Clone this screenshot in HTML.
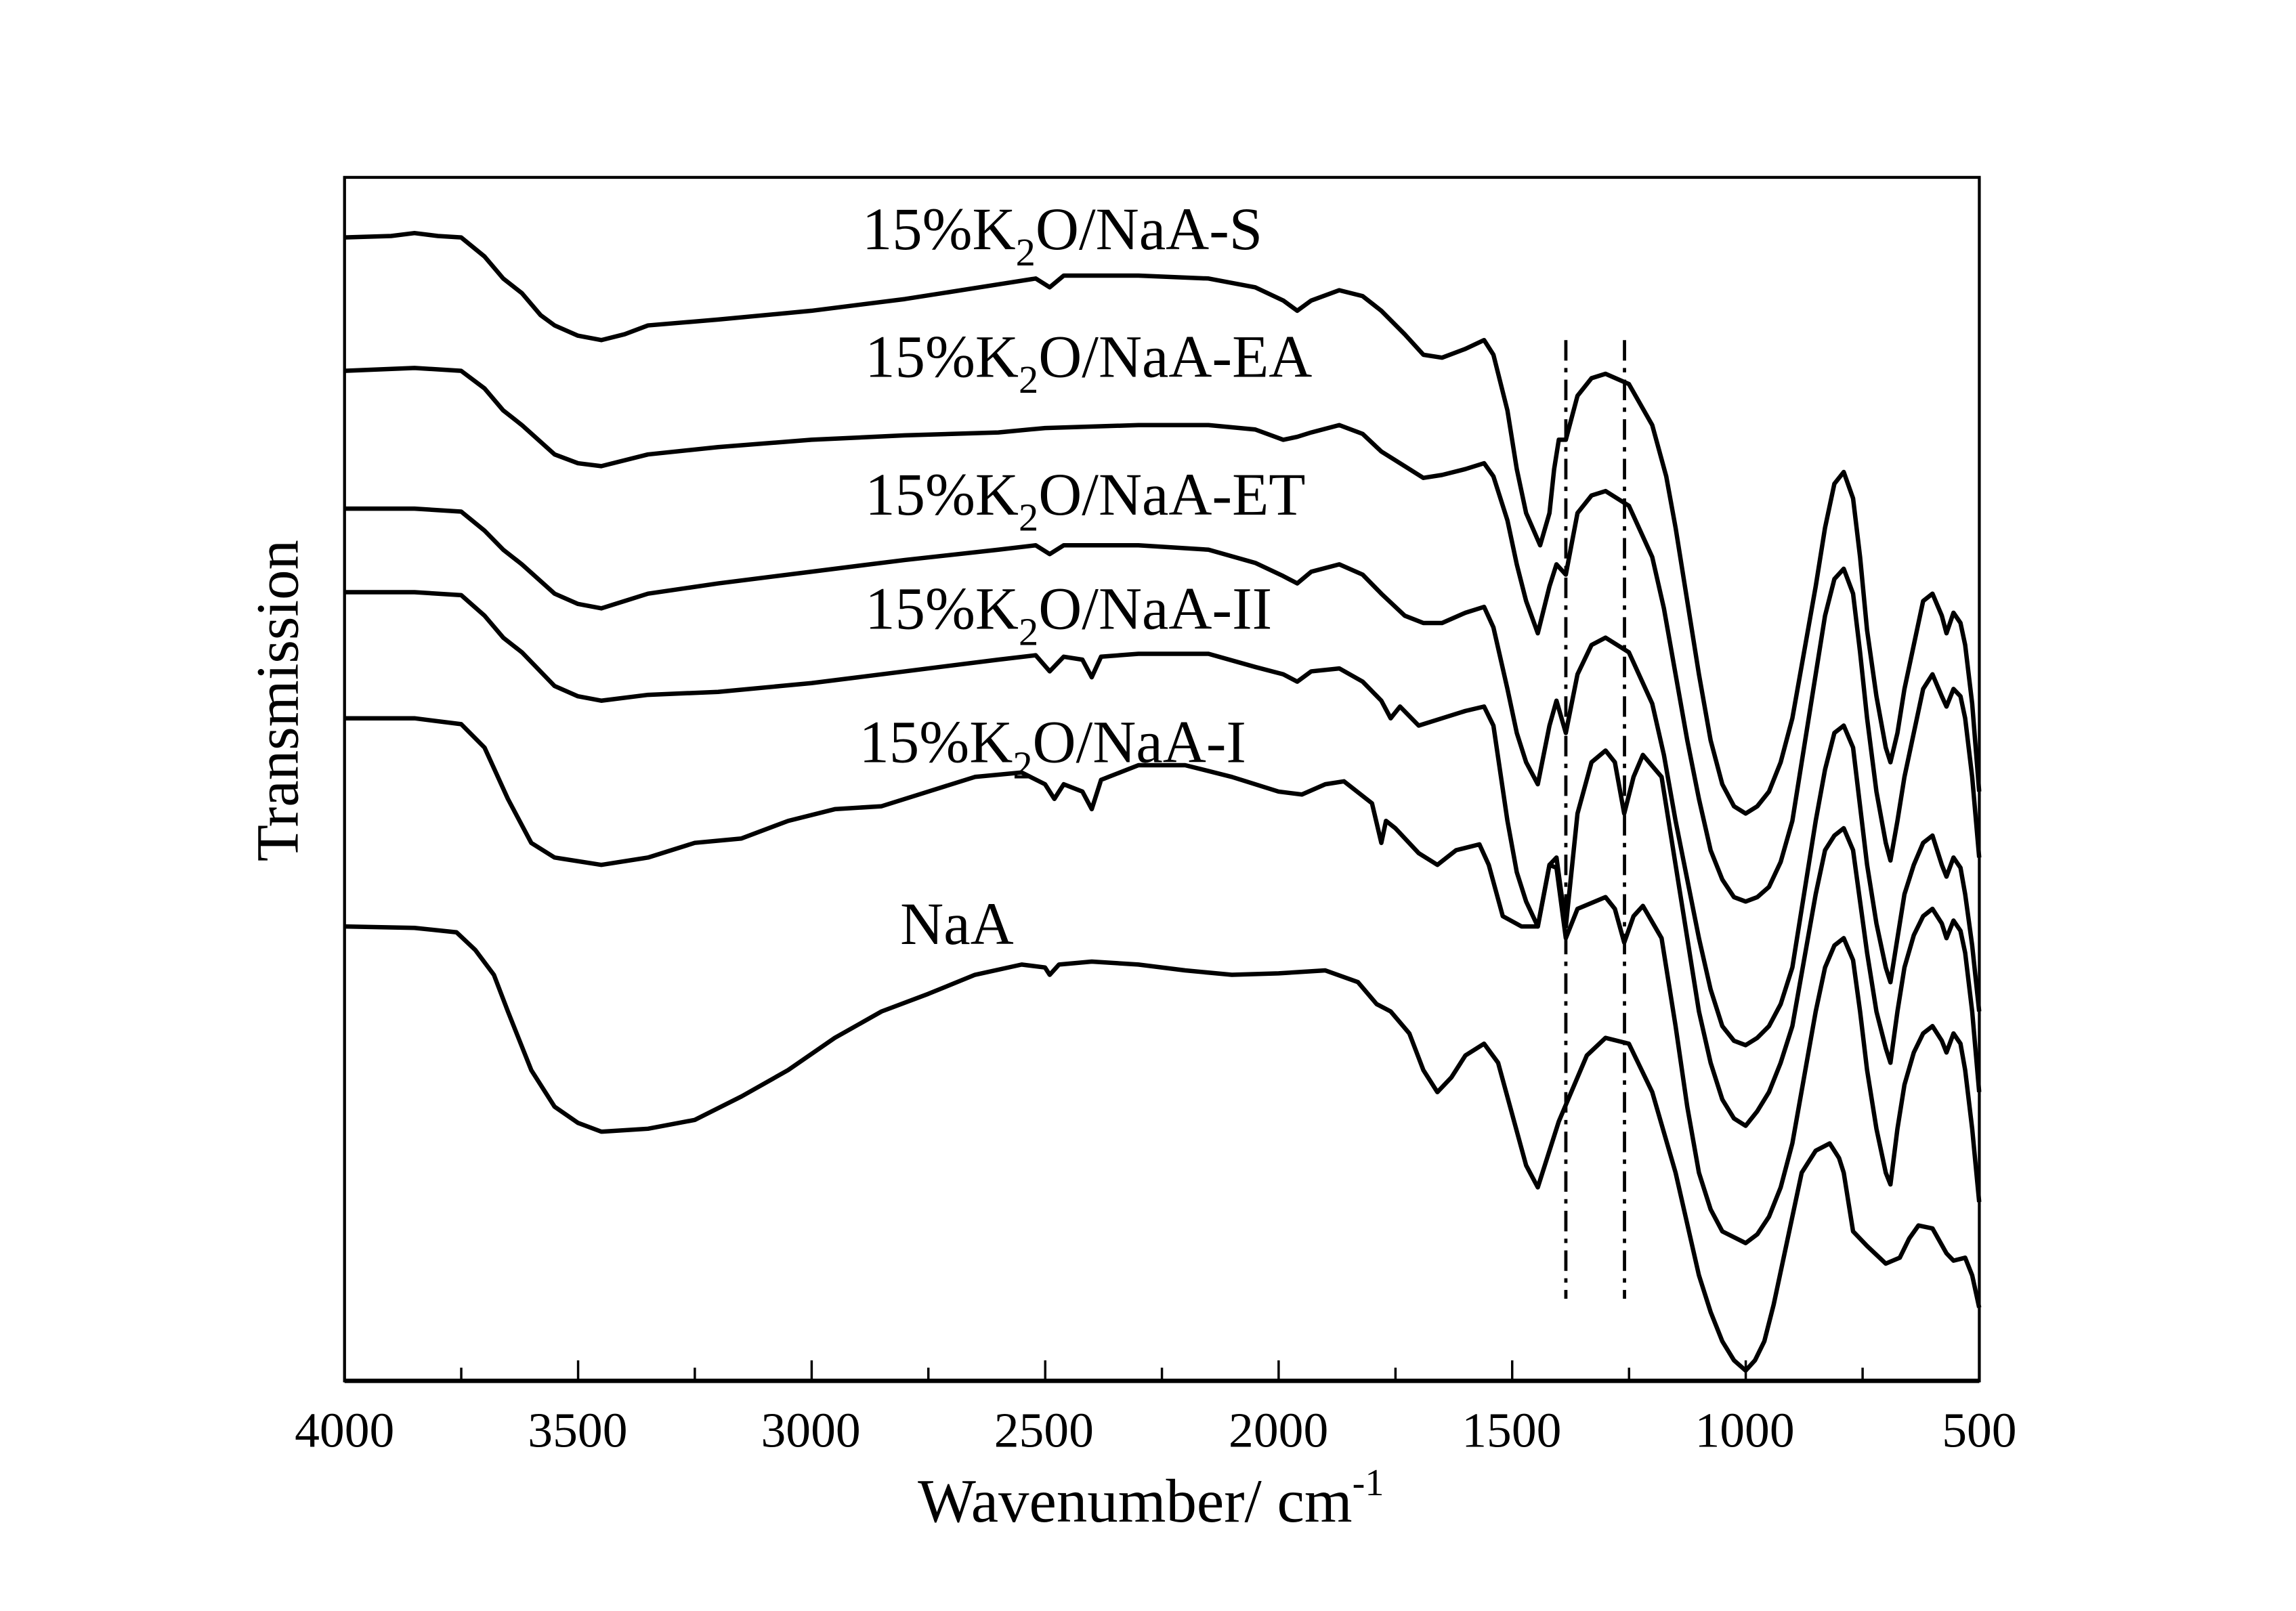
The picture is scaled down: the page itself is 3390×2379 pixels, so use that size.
<!DOCTYPE html>
<html><head><meta charset="utf-8"><style>html,body{margin:0;padding:0;background:#fff}svg{display:block}</style></head>
<body>
<svg width="3390" height="2379" viewBox="0 0 1566 1099" preserveAspectRatio="none" xmlns="http://www.w3.org/2000/svg" font-family="Liberation Serif, serif">
<rect width="1566" height="1099" fill="#fff"/>
<g transform="translate(1509.2,0) scale(-0.318571,1)" fill="none" stroke="#000" stroke-width="6.5" vector-effect="non-scaling-stroke" stroke-linejoin="round">
<polyline vector-effect="non-scaling-stroke" points="4000,162 3900,161 3850,159 3800,161 3750,162 3700,175 3660,190 3620,200 3580,215 3550,222 3500,229 3450,232 3400,228 3350,222 3200,218 3000,212 2800,204 2600,194 2520,190 2490,196 2460,188 2300,188 2150,190 2050,196 1990,205 1960,212 1930,205 1870,198 1820,202 1780,212 1730,228 1690,242 1650,244 1600,238 1560,232 1540,242 1510,280 1490,320 1470,350 1440,372 1420,350 1410,320 1400,300 1385,300 1360,270 1330,258 1300,255 1250,262 1200,290 1170,325 1150,360 1125,410 1100,460 1075,505 1050,535 1025,550 1000,555 975,550 950,540 925,520 900,490 875,445 850,400 830,360 810,330 790,322 770,340 755,380 740,430 720,475 700,510 690,520 675,500 660,470 640,440 620,410 600,405 580,420 570,432 555,418 540,425 530,440 515,480 500,540"/>
<polyline vector-effect="non-scaling-stroke" points="4000,253 3850,251 3750,253 3700,265 3660,280 3620,290 3550,310 3500,316 3450,318 3350,310 3200,305 3000,300 2800,297 2600,295 2500,292 2300,290 2150,290 2050,293 1990,300 1960,298 1930,295 1870,290 1820,296 1780,308 1730,318 1690,326 1650,324 1600,320 1560,316 1540,325 1510,355 1490,385 1470,410 1445,432 1420,400 1405,385 1385,392 1360,350 1330,338 1300,335 1250,345 1200,380 1175,415 1150,460 1125,505 1100,545 1075,580 1050,600 1025,612 1000,615 975,612 950,605 925,588 900,560 875,510 850,460 830,420 810,395 790,388 770,405 755,445 740,490 720,540 700,575 690,587 675,560 660,530 640,500 620,470 600,460 580,475 570,482 555,470 540,475 530,490 515,530 500,585"/>
<polyline vector-effect="non-scaling-stroke" points="4000,347 3850,347 3750,349 3700,362 3660,375 3620,385 3550,405 3500,412 3450,415 3350,405 3200,398 3000,390 2800,382 2600,375 2520,372 2490,378 2460,372 2300,372 2150,375 2050,384 1990,393 1960,398 1930,390 1870,385 1820,392 1780,405 1730,420 1690,425 1650,425 1600,418 1560,414 1540,428 1510,470 1490,500 1470,520 1445,535 1420,495 1405,478 1385,500 1360,460 1330,440 1300,435 1250,445 1200,480 1175,515 1150,560 1125,600 1100,640 1075,675 1050,700 1025,710 1000,713 975,708 950,700 925,685 900,660 875,610 850,560 830,525 810,500 790,495 770,510 755,550 740,590 720,630 700,660 690,670 675,640 660,610 640,590 620,575 600,570 580,590 570,598 555,585 540,592 530,610 515,645 500,690"/>
<polyline vector-effect="non-scaling-stroke" points="4000,404 3850,404 3750,406 3700,420 3660,435 3620,445 3550,468 3500,475 3450,478 3350,474 3200,472 3000,466 2900,462 2800,458 2600,450 2520,447 2490,458 2460,448 2420,450 2400,462 2380,448 2300,446 2150,446 2050,455 1990,460 1960,465 1930,458 1870,456 1820,465 1780,478 1760,490 1740,482 1700,495 1650,490 1600,485 1560,482 1540,495 1510,560 1490,595 1470,615 1445,632 1420,590 1405,585 1385,632 1360,555 1330,520 1300,512 1280,520 1260,555 1240,530 1220,515 1180,530 1150,590 1125,640 1100,690 1075,725 1050,750 1025,763 1000,768 975,758 950,745 925,725 900,700 875,655 850,610 830,580 810,570 790,565 770,580 755,615 740,650 720,690 700,715 690,725 675,690 660,660 640,638 620,625 600,620 580,630 570,640 555,628 540,635 530,650 515,690 500,745"/>
<polyline vector-effect="non-scaling-stroke" points="4000,490 3850,490 3750,494 3700,510 3650,545 3600,575 3550,585 3450,590 3350,585 3250,575 3150,572 3050,560 2950,552 2850,550 2750,540 2650,530 2550,527 2500,535 2480,545 2460,535 2420,540 2400,552 2380,532 2300,522 2200,522 2100,530 2000,540 1950,542 1900,535 1860,533 1800,548 1780,575 1770,560 1750,565 1700,582 1660,590 1620,580 1570,576 1550,590 1520,625 1480,632 1445,632 1420,590 1405,592 1385,640 1360,620 1300,612 1280,620 1260,643 1240,625 1220,618 1180,640 1150,700 1125,755 1100,800 1075,825 1050,840 1000,848 975,842 950,830 925,810 900,780 875,735 850,690 830,660 810,645 790,640 770,655 755,690 740,730 720,770 700,800 690,808 675,770 660,740 640,718 620,705 600,700 580,710 570,718 555,705 540,712 530,730 515,770 500,820"/>
<polyline vector-effect="non-scaling-stroke" points="4000,632 3850,633 3760,636 3720,648 3680,665 3650,690 3600,730 3550,755 3500,766 3450,772 3350,770 3250,764 3150,748 3050,730 2950,708 2850,690 2750,678 2650,665 2550,658 2500,660 2490,665 2470,658 2400,656 2300,658 2200,662 2100,665 2000,664 1900,662 1830,670 1790,685 1760,690 1720,705 1690,730 1660,745 1630,735 1600,720 1560,712 1530,725 1500,760 1470,795 1445,810 1420,785 1400,765 1380,750 1340,720 1300,708 1250,712 1200,745 1150,800 1100,870 1075,895 1050,915 1025,928 1000,935 980,928 960,915 940,890 920,860 900,830 880,800 850,785 820,780 800,790 790,800 770,840 740,850 700,862 670,858 650,845 630,836 600,838 570,855 555,860 530,858 515,870 500,892"/>
</g>
<line x1="1068" y1="232" x2="1068" y2="886" stroke="#000" stroke-width="2.2" stroke-dasharray="14,5,3,5"/>
<line x1="1108" y1="232" x2="1108" y2="886" stroke="#000" stroke-width="2.2" stroke-dasharray="14,5,3,5"/>
<rect x="235" y="121" width="1115" height="821" fill="none" stroke="#000" stroke-width="2"/>
<line x1="235" y1="942" x2="1350" y2="942" stroke="#000" stroke-width="3"/>
<g stroke="#000" stroke-width="1.6">
<line x1="314.6" y1="942" x2="314.6" y2="933"/><line x1="394.3" y1="942" x2="394.3" y2="928"/>
<line x1="473.9" y1="942" x2="473.9" y2="933"/><line x1="553.6" y1="942" x2="553.6" y2="928"/>
<line x1="633.2" y1="942" x2="633.2" y2="933"/><line x1="712.9" y1="942" x2="712.9" y2="928"/>
<line x1="792.5" y1="942" x2="792.5" y2="933"/><line x1="872.1" y1="942" x2="872.1" y2="928"/>
<line x1="951.8" y1="942" x2="951.8" y2="933"/><line x1="1031.4" y1="942" x2="1031.4" y2="928"/>
<line x1="1111.1" y1="942" x2="1111.1" y2="933"/><line x1="1190.7" y1="942" x2="1190.7" y2="928"/>
<line x1="1270.4" y1="942" x2="1270.4" y2="933"/>
</g>
<g font-size="34" text-anchor="middle">
<text x="235" y="987">4000</text><text x="394" y="987">3500</text><text x="553" y="987">3000</text><text x="712" y="987">2500</text><text x="872" y="987">2000</text><text x="1031" y="987">1500</text><text x="1190" y="987">1000</text><text x="1350" y="987">500</text>
</g>
<text x="785" y="1038" font-size="42" text-anchor="middle">Wavenumber/ cm<tspan font-size="26" dy="-18">-1</tspan></text>
<text transform="translate(203,478) rotate(-90)" font-size="41" text-anchor="middle">Transmission</text>
<g font-size="41">
<text x="588" y="170">15%K<tspan font-size="27" dy="11">2</tspan><tspan dy="-11">O/NaA-S</tspan></text>
<text x="590" y="257">15%K<tspan font-size="27" dy="11">2</tspan><tspan dy="-11">O/NaA-EA</tspan></text>
<text x="590" y="351">15%K<tspan font-size="27" dy="11">2</tspan><tspan dy="-11">O/NaA-ET</tspan></text>
<text x="590" y="429">15%K<tspan font-size="27" dy="11">2</tspan><tspan dy="-11">O/NaA-II</tspan></text>
<text x="586" y="520">15%K<tspan font-size="27" dy="11">2</tspan><tspan dy="-11">O/NaA-I</tspan></text>
<text x="614" y="644">NaA</text>
</g>
</svg>
</body></html>
